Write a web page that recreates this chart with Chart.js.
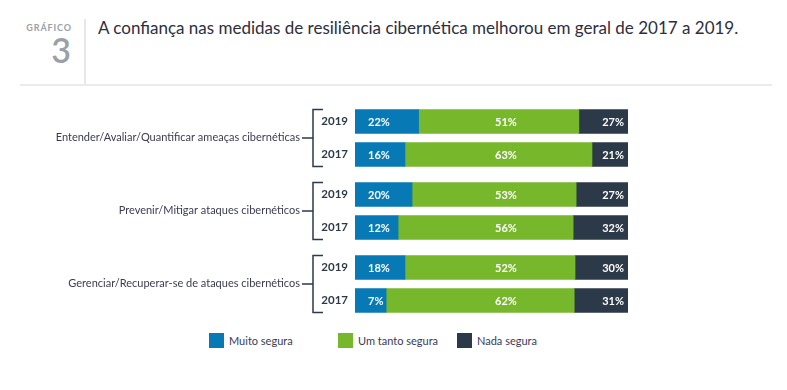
<!DOCTYPE html>
<html>
<head>
<meta charset="utf-8">
<script src="https://cdn.jsdelivr.net/npm/chart.js@4"></script>
<style>
body{margin:0;background:#fff;font-family:Lato,sans-serif;}
#wrap{position:relative;width:787px;height:390px;overflow:hidden;background:#fff}
.kicker{position:absolute;left:0;width:72px;top:23px;text-align:right;font-size:9px;line-height:1;font-weight:bold;letter-spacing:0.9px;color:#9aa0a9}
.num{position:absolute;left:0;width:71px;top:33px;text-align:right;font-size:34px;line-height:1;font-weight:600;color:#9aa0a9}
.vline{position:absolute;left:84px;top:19px;width:2px;height:67px;background:#e8e8e8}
.hline{position:absolute;left:20px;top:84px;width:752px;height:2px;background:#ebebeb}
.title{position:absolute;left:98px;top:19px;font-size:17px;line-height:1;color:#2e2e3c;white-space:nowrap}
canvas{position:absolute;left:0}
.lg{position:absolute;top:333px;height:15px;font-size:11px;line-height:15px;color:#3a3a55;white-space:nowrap}
.lg span{display:inline-block;width:15px;height:15px;vertical-align:top;margin-right:5px}
</style>
</head>
<body>
<div id="wrap">
  <div class="kicker">GRÁFICO</div>
  <div class="num">3</div>
  <div class="vline"></div>
  <div class="title">A confiança nas medidas de resiliência cibernética melhorou em geral de 2017 a 2019.</div>
  <div class="hline"></div>
  <canvas id="g0" width="787" height="66" style="top:105px"></canvas>
  <canvas id="g1" width="787" height="66" style="top:178px"></canvas>
  <canvas id="g2" width="787" height="66" style="top:251px"></canvas>
</div>
<script>
var groups=['Entender/Avaliar/Quantificar ameaças cibernéticas','Prevenir/Mitigar ataques cibernéticos','Gerenciar/Recuperar-se de ataques cibernéticos'];
var years=['2019','2017'];
var series=['Muito segura','Um tanto segura','Nada segura'];
var colors=['#0779b5','#77b72b','#2c3949'];
// percentages printed on the bars, per group: [2019, 2017]
var muito=[[22,16],[20,12],[18,7]];
var tanto=[[51,63],[53,56],[52,62]];
var nada=[[27,21],[27,32],[30,31]];
// segment lengths as drawn in the picture (share of the bar, %)
var muitoBar=[[23.3,18.3],[20.9,15.8],[18.3,11.4]];
var tantoBar=[[58.7,68.5],[60.1,64.1],[62.3,68.9]];
var nadaBar=[[18.0,13.2],[19.0,20.1],[19.4,19.7]];

var labels=[muito,tanto,nada];
var bars=[muitoBar,tantoBar,nadaBar];
var ink='#2c3949';

var groupPlugin={
  id:'grp',
  afterDatasetsDraw:function(chart,args,opts)
  {
    var c=chart.ctx;
    var g=opts.index;
    c.save();
    // segment labels
    c.fillStyle='#fff';
    c.font='bold 11px Lato';
    c.textBaseline='middle';
    for(var i=0;i<3;i++)
    {
      var meta=chart.getDatasetMeta(i);
      meta.data.forEach(function(bar,j){
        var txt=labels[i][g][j]+'%';
        var x;
        if(i==0){c.textAlign='left';x=bar.base+13;}
        else if(i==1){c.textAlign='center';x=chart.scales.x.getPixelForValue(55.3);}
        else{c.textAlign='right';x=bar.x-4;}
        c.fillText(txt,x,bar.y+1);
      });
    }
    // bracket
    var m=chart.getDatasetMeta(0);
    var top=m.data[0].y-m.data[0].height/2;
    var bot=m.data[1].y+m.data[1].height/2;
    var mid=(top+bot)/2;
    c.strokeStyle=ink;
    c.lineWidth=1.5;
    c.beginPath();
    c.moveTo(323,top);c.lineTo(313,top);c.lineTo(313,bot);c.lineTo(323,bot);
    c.moveTo(302,mid);c.lineTo(313,mid);
    c.stroke();
    // group label
    c.fillStyle='#3b3b50';
    c.font='11px Lato';
    c.textAlign='right';
    c.fillText(groups[g],300,mid-1);
    c.restore();
  }
};

function create_group(g)
{
  var ctx=document.getElementById('g'+g).getContext('2d');
  return new Chart(ctx,{
    type:'bar',
    data:{
      labels:years,
      datasets:[0,1,2].map(function(i){
        return {label:series[i],data:bars[i][g],backgroundColor:colors[i],borderWidth:0,barThickness:24};
      })
    },
    options:{
      indexAxis:'y',
      responsive:false,
      animation:false,
      devicePixelRatio:1,
      layout:{padding:{left:0,right:159,top:0,bottom:0}},
      plugins:{legend:{display:false},tooltip:{enabled:false},grp:{index:g}},
      scales:{
        x:{stacked:true,min:0,max:100,display:false},
        y:{
          stacked:true,
          grid:{display:false,drawTicks:false},
          border:{display:false},
          ticks:{padding:7,color:ink,font:{family:'Lato',size:11.5,weight:'bold'}},
          afterFit:function(s){s.width=355;s.paddingTop=0;s.paddingBottom=0;}
        }
      }
    },
    plugins:[groupPlugin]
  });
}

for(var g=0;g<groups.length;g++) create_group(g);

// legend
var legendLeft=[209,338,457];
var wrap=document.getElementById('wrap');
series.forEach(function(name,i){
  var d=document.createElement('div');
  d.className='lg';
  d.style.left=legendLeft[i]+'px';
  d.innerHTML='<span style="background:'+colors[i]+'"></span>'+name;
  wrap.appendChild(d);
});
</script>
</body>
</html>
